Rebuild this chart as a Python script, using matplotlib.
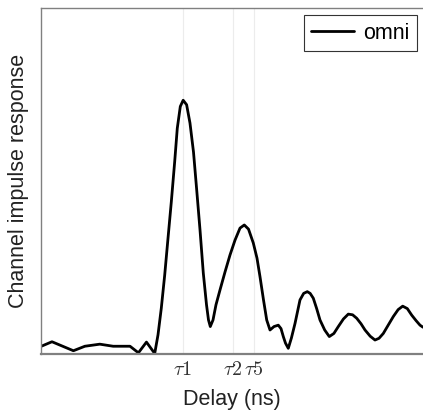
import matplotlib
matplotlib.use("Agg")
import matplotlib.pyplot as plt

# Data (delay in arbitrary ns units, normalised response)
delay = [0.0, 3.0, 8.6, 11.6, 15.5, 19.0, 23.4, 25.6, 27.7, 29.86,
         30.72, 31.58, 32.47, 33.33, 34.2, 35.08, 35.76, 36.55, 37.3, 38.2,
         39.08, 40.0, 40.84, 41.7, 42.56, 43.4, 43.92, 44.39, 45.1, 45.88,
         46.93, 48.24, 49.54, 50.85, 52.16, 53.28, 54.38, 55.63, 56.6, 57.39,
         58.3, 59.14, 60.0, 61.05, 62.17, 62.88, 63.48, 64.05, 64.78, 65.6,
         66.54, 67.84, 68.8, 69.75, 70.5, 71.32, 72.2, 73.07, 74.3, 75.5,
         76.7, 77.86, 79.2, 80.47, 81.6, 82.67, 83.8, 84.84, 86.2, 87.45,
         88.5, 89.62, 90.9, 92.24, 93.5, 94.69, 95.9, 97.05, 98.2, 99.22, 100.0]
response = [0.020, 0.034, 0.008, 0.021, 0.027, 0.021, 0.021, 0.002, 0.033, 0.0,
            0.054, 0.131, 0.227, 0.333, 0.439, 0.555, 0.652, 0.715, 0.733, 0.720,
            0.667, 0.583, 0.473, 0.358, 0.233, 0.141, 0.097, 0.078, 0.097, 0.141,
            0.184, 0.236, 0.285, 0.328, 0.363, 0.372, 0.360, 0.320, 0.276, 0.222,
            0.155, 0.097, 0.068, 0.078, 0.082, 0.072, 0.049, 0.030, 0.015, 0.045,
            0.087, 0.155, 0.174, 0.179, 0.174, 0.160, 0.130, 0.097, 0.068, 0.049,
            0.058, 0.078, 0.100, 0.114, 0.112, 0.102, 0.086, 0.068, 0.050, 0.039,
            0.044, 0.058, 0.082, 0.107, 0.127, 0.137, 0.130, 0.111, 0.095, 0.082, 0.076]

tick_pos = [37.25, 50.3, 55.8]
tick_labels = [r"$\tau 1$", r"$\tau 2$", r"$\tau 5$"]

plt.rcParams["mathtext.fontset"] = "cm"
plt.rcParams["font.family"] = ["Liberation Sans", "DejaVu Sans"]

fig = plt.figure(figsize=(4.23, 4.15), dpi=100)
ax = fig.add_axes([40.5 / 423, (415 - 353.5) / 415, 1 - 40.5 / 423, (353.5 - 8) / 415])

ax.plot(delay, response, color="black", linewidth=2.0, label="omni",
        solid_joinstyle="round", solid_capstyle="round")

ax.set_xlim(0, 100)
ax.set_ylim(0, 1)
ax.set_yticks([])
ax.set_xticks(tick_pos)
ax.set_xticklabels(tick_labels, fontsize=14.5, color="#333333")
ax.tick_params(axis="x", length=0, pad=5)
ax.grid(axis="x", color="#ececec", linewidth=0.8)
ax.set_axisbelow(True)

for side in ["left", "bottom", "top"]:
    ax.spines[side].set_color("#808080")
    ax.spines[side].set_linewidth(1.0)
ax.spines["bottom"].set_linewidth(1.6)
ax.spines["right"].set_visible(False)

ax.set_xlabel("Delay (ns)", fontsize=15.5, color="#222222", labelpad=7)
ax.set_ylabel("Channel impulse response", fontsize=15.5, color="#222222", labelpad=8)

leg = ax.legend(loc="upper right", bbox_to_anchor=(417 / 423, (415 - 15) / 415),
                bbox_transform=fig.transFigure, borderaxespad=0, fontsize=15.5,
                fancybox=False, edgecolor="#333333", framealpha=1,
                handlelength=2.0, handletextpad=0.4, borderpad=0.35)
leg.get_frame().set_linewidth(0.8)

fig.savefig("out.png", dpi=100)
